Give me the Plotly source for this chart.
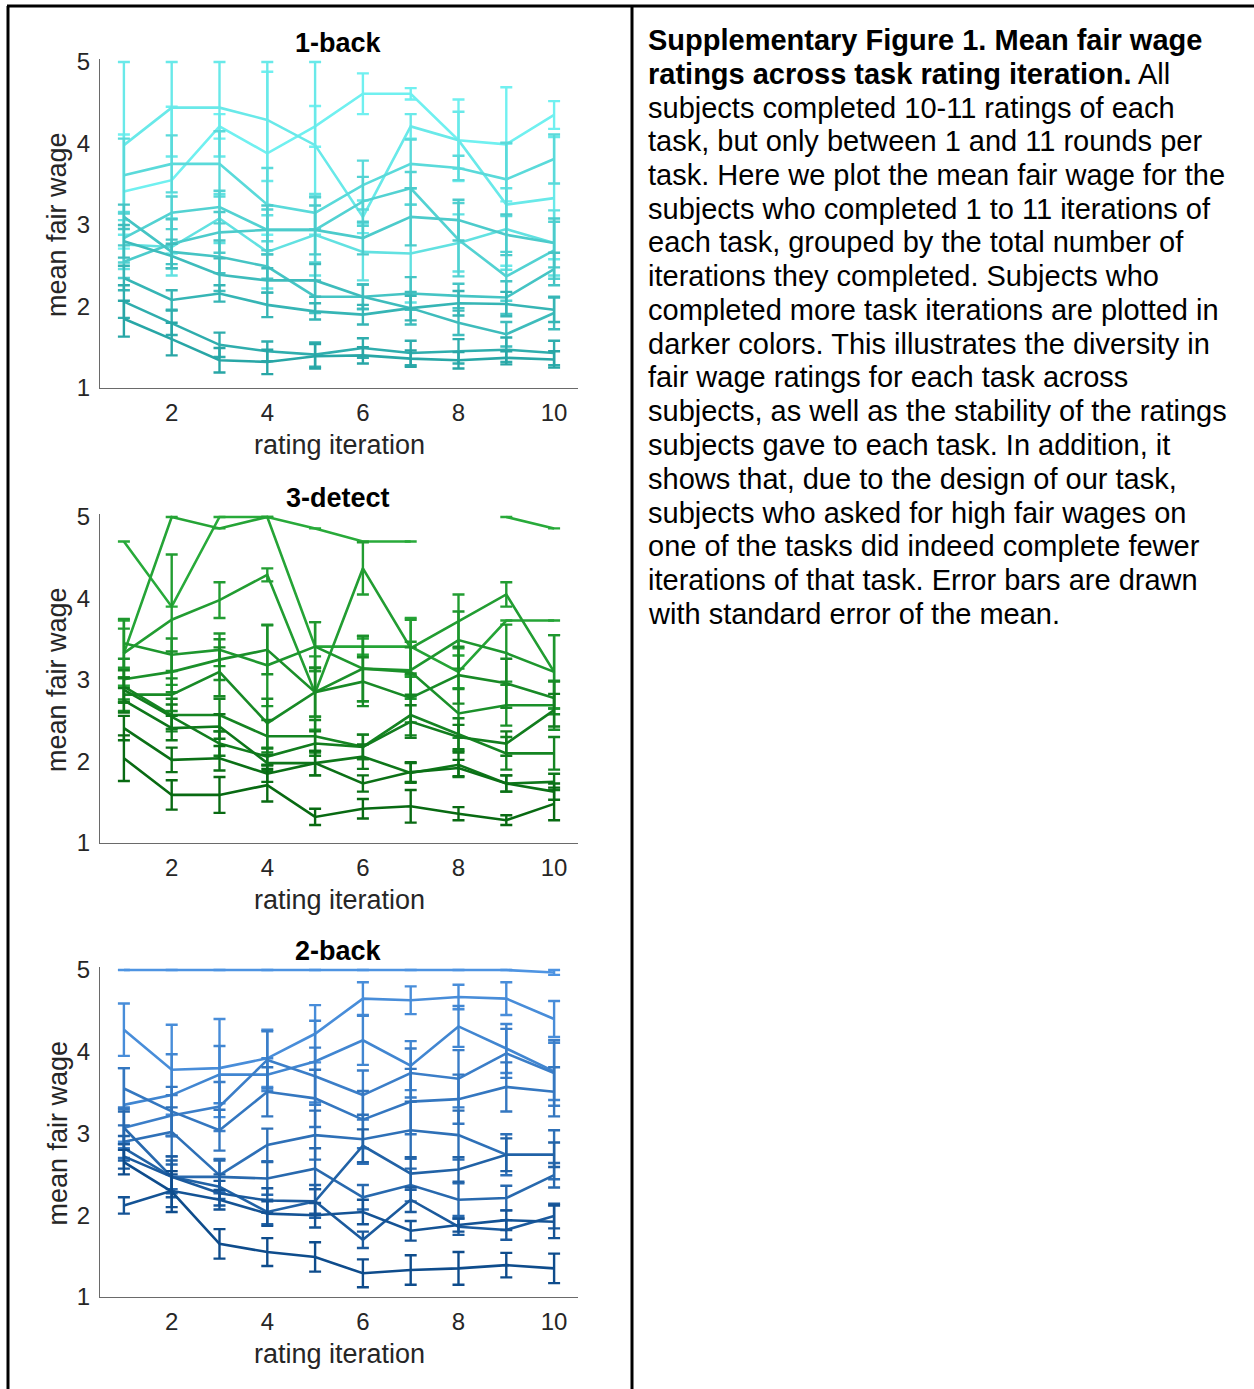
import plotly.graph_objects as go
import numpy as np

W, H = 1254, 1389
iters = list(range(1, 11))
nan = float("nan")

# ---------------- data: 1-back (light -> dark) ----------------
oneback_vals = [
    [3.41, 3.55, 4.21, 3.88, 4.21, 4.61, 4.61, 4.04, 3.99, 4.35],
    [3.98, 4.44, 4.44, 4.29, 3.98, 3.10, 4.21, 4.04, 3.25, 3.33],
    [2.76, 2.73, 3.08, 2.67, 2.88, 2.67, 2.65, 2.78, 2.95, 2.78],
    [3.61, 3.75, 3.75, 3.25, 3.15, 3.49, 3.75, 3.70, 3.56, 3.81],
    [2.84, 3.15, 3.22, 2.94, 2.94, 3.29, 3.45, 2.82, 2.37, 2.69],
    [2.55, 2.77, 2.91, 2.94, 2.94, 2.84, 3.10, 3.06, 2.88, 2.78],
    [3.10, 2.67, 2.61, 2.49, 2.12, 2.12, 2.16, 2.13, 2.11, 2.46],
    [2.80, 2.62, 2.39, 2.32, 2.32, 2.12, 1.98, 1.80, 1.66, 1.92],
    [2.35, 2.08, 2.16, 2.02, 1.94, 1.90, 1.98, 2.04, 2.03, 1.96],
    [2.06, 1.80, 1.53, 1.45, 1.41, 1.49, 1.43, 1.45, 1.47, 1.43],
    [1.85, 1.60, 1.34, 1.32, 1.39, 1.40, 1.36, 1.34, 1.37, 1.35],
]
oneback_err = [
    [0.70, 0.90, 0.15, 1.00, 0.25, 0.25, 0.07, 0.50, 0.70, 0.17],
    [1.10, 0.60, 0.60, 0.75, 1.10, 0.20, 0.15, 0.35, 0.75, 0.75],
    [0.30, 0.35, 0.30, 0.45, 0.50, 0.35, 0.60, 0.35, 0.50, 0.40],
    [0.45, 0.35, 0.40, 0.45, 0.20, 0.30, 0.30, 0.15, 0.45, 0.30],
    [0.30, 0.20, 0.20, 0.25, 0.40, 0.30, 0.20, 0.45, 0.30, 0.35],
    [0.20, 0.30, 0.25, 0.30, 0.30, 0.20, 0.35, 0.25, 0.25, 0.30],
    [0.15, 0.15, 0.20, 0.15, 0.20, 0.15, 0.20, 0.15, 0.20, 0.20],
    [0.20, 0.15, 0.20, 0.15, 0.20, 0.15, 0.20, 0.15, 0.15, 0.20],
    [0.15, 0.12, 0.10, 0.15, 0.10, 0.12, 0.15, 0.15, 0.15, 0.15],
    [0.20, 0.15, 0.15, 0.12, 0.15, 0.12, 0.15, 0.15, 0.15, 0.15],
    [0.22, 0.20, 0.15, 0.15, 0.15, 0.10, 0.10, 0.10, 0.08, 0.10],
]

# ---------------- data: 3-detect (light -> dark) ----------------
detect_vals = [
    [4.70, 3.90, 5.00, 5.00, 4.86, 4.70, 4.70, nan, 5.00, 4.86],
    [3.33, 5.00, 4.86, 5.00, 3.41, 3.41, 3.41, 3.10, 3.73, 3.73],
    [3.33, 3.74, 3.98, 4.29, 2.84, 4.37, 3.39, 3.72, 4.05, 3.10],
    [3.45, 3.31, 3.37, 3.18, 3.41, 3.14, 3.12, 3.49, 3.33, 3.10],
    [3.01, 3.10, 3.25, 3.37, 2.85, 3.14, 3.10, 2.59, 2.69, 2.69],
    [2.82, 2.82, 3.10, 2.47, 2.85, 2.98, 2.78, 3.06, 2.96, 2.78],
    [2.92, 2.57, 2.57, 2.31, 2.31, 2.18, 2.57, 2.33, 2.10, 2.10],
    [2.88, 2.55, 2.22, 2.06, 2.22, 2.18, 2.49, 2.30, 2.22, 2.63],
    [2.75, 2.41, 2.43, 1.98, 1.98, 2.06, 1.86, 1.96, 1.73, 1.75],
    [2.41, 2.02, 2.04, 1.85, 1.98, 1.73, 1.87, 1.92, 1.73, 1.63],
    [2.04, 1.59, 1.59, 1.71, 1.32, 1.42, 1.45, 1.36, 1.28, 1.48],
]
detect_err = [
    [0.00, 0.00, 0.00, 0.00, 0.00, 0.00, 0.00, nan, 0.00, 0.00],
    [0.40, 0.00, 0.00, 0.00, 0.30, 0.10, 0.35, 0.20, 0.00, 0.00],
    [0.30, 0.80, 0.22, 0.08, 0.45, 0.32, 0.35, 0.33, 0.15, 0.45],
    [0.30, 0.20, 0.20, 0.50, 0.30, 0.40, 0.35, 0.35, 0.35, 0.45],
    [0.25, 0.25, 0.25, 0.30, 0.30, 0.40, 0.30, 0.30, 0.25, 0.30],
    [0.20, 0.20, 0.30, 0.30, 0.30, 0.30, 0.30, 0.35, 0.30, 0.20],
    [0.20, 0.20, 0.20, 0.20, 0.20, 0.15, 0.25, 0.20, 0.20, 0.20],
    [0.15, 0.15, 0.15, 0.10, 0.15, 0.15, 0.20, 0.15, 0.15, 0.20],
    [0.15, 0.15, 0.15, 0.10, 0.15, 0.15, 0.12, 0.15, 0.10, 0.10],
    [0.15, 0.15, 0.15, 0.10, 0.15, 0.10, 0.12, 0.10, 0.10, 0.10],
    [0.28, 0.18, 0.22, 0.20, 0.10, 0.12, 0.20, 0.08, 0.06, 0.20],
]

# ---------------- data: 2-back (light -> dark) ----------------
twoback_vals = [
    [5.00, 5.00, 5.00, 5.00, 5.00, 5.00, 5.00, 5.00, 5.00, 4.97],
    [4.27, 3.78, 3.80, 3.92, 4.22, 4.65, 4.63, 4.67, 4.65, 4.40],
    [3.35, 3.47, 3.72, 3.72, 3.88, 4.14, 3.83, 4.31, 4.04, 3.76],
    [3.07, 3.22, 3.33, 3.90, 3.70, 3.47, 3.74, 3.67, 3.98, 3.74],
    [3.55, 3.27, 3.04, 3.51, 3.43, 3.17, 3.39, 3.42, 3.57, 3.51],
    [2.90, 3.02, 2.49, 2.86, 2.98, 2.93, 3.04, 2.98, 2.74, 2.74],
    [3.07, 2.47, 2.47, 2.45, 2.57, 2.22, 2.37, 2.19, 2.21, 2.49],
    [2.82, 2.47, 2.35, 2.04, 2.17, 2.85, 2.51, 2.56, 2.74, 2.74],
    [2.72, 2.47, 2.27, 2.18, 2.17, 1.70, 2.19, 1.86, 1.82, 1.99],
    [2.12, 2.30, 2.19, 2.02, 2.00, 2.04, 1.81, 1.88, 1.94, 1.92],
    [2.65, 2.29, 1.65, 1.55, 1.49, 1.29, 1.33, 1.35, 1.39, 1.35],
]
twoback_err = [
    [0.00, 0.00, 0.00, 0.00, 0.00, 0.00, 0.00, 0.00, 0.00, 0.03],
    [0.32, 0.55, 0.60, 0.35, 0.35, 0.20, 0.17, 0.15, 0.20, 0.22],
    [0.45, 0.50, 0.35, 0.20, 0.50, 0.30, 0.30, 0.25, 0.30, 0.35],
    [0.25, 0.25, 0.30, 0.35, 0.35, 0.30, 0.30, 0.35, 0.30, 0.40],
    [0.25, 0.30, 0.25, 0.30, 0.35, 0.35, 0.40, 0.30, 0.30, 0.30],
    [0.20, 0.30, 0.20, 0.20, 0.30, 0.30, 0.35, 0.30, 0.25, 0.30],
    [0.20, 0.15, 0.20, 0.20, 0.25, 0.15, 0.20, 0.20, 0.15, 0.15],
    [0.15, 0.20, 0.15, 0.15, 0.20, 0.20, 0.20, 0.15, 0.20, 0.15],
    [0.15, 0.25, 0.15, 0.15, 0.15, 0.10, 0.15, 0.10, 0.12, 0.15],
    [0.10, 0.20, 0.12, 0.15, 0.15, 0.15, 0.12, 0.08, 0.12, 0.20],
    [0.15, 0.25, 0.18, 0.17, 0.18, 0.17, 0.18, 0.20, 0.15, 0.18],
]

panel_titles = ["1-back", "3-detect", "2-back"]
x_ticks = [2, 4, 6, 8, 10]
y_ticks = [1, 2, 3, 4, 5]
x_label = "rating iteration"
y_label = "mean fair wage"

caption_lines = [
    "<b>Supplementary Figure 1. Mean fair wage</b>",
    "<b>ratings across task rating iteration.</b> All",
    "subjects completed 10-11 ratings of each",
    "task, but only between 1 and 11 rounds per",
    "task. Here we plot the mean fair wage for the",
    "subjects who completed 1 to 11 iterations of",
    "each task, grouped by the total number of",
    "iterations they completed. Subjects who",
    "completed more task iterations are plotted in",
    "darker colors. This illustrates the diversity in",
    "fair wage ratings for each task across",
    "subjects, as well as the stability of the ratings",
    "subjects gave to each task. In addition, it",
    "shows that, due to the design of our task,",
    "subjects who asked for high fair wages on",
    "one of the tasks did indeed complete fewer",
    "iterations of that task. Error bars are drawn",
    "with standard error of the mean.",
]

# ---------------- styling ----------------
palettes = [
    ((112, 240, 240), (40, 166, 166)),
    ((40, 170, 58), (8, 106, 18)),
    ((78, 148, 226), (14, 76, 140)),
]
FONT = "Liberation Sans, Arial, Helvetica, sans-serif"
AX_COLOR = "#6a6a6a"
TXT = "#262626"

# pixel geometry of each axes box: (y=5 pixel, y=1 pixel)
x_px = (100, 578)
y_px = [(62, 388), (517, 843), (970, 1297)]
YMAX = 5.04


def px_x(p):
    return p / W


def px_y(p):
    return 1 - p / H


def mix(c0, c1, t):
    return "rgb(%d,%d,%d)" % tuple(round(a + (b - a) * t) for a, b in zip(c0, c1))


fig = go.Figure()
datasets = [(oneback_vals, oneback_err), (detect_vals, detect_err), (twoback_vals, twoback_err)]

for p, (vals, errs) in enumerate(datasets):
    c0, c1 = palettes[p]
    n = len(vals)
    xa = "x" if p == 0 else "x%d" % (p + 1)
    ya = "y" if p == 0 else "y%d" % (p + 1)
    for i, (v, e) in enumerate(zip(vals, errs)):
        col = mix(c0, c1, i / (n - 1))
        v = np.array(v, dtype=float)
        e = np.array(e, dtype=float)
        plus = np.minimum(e, 5 - v)
        fig.add_trace(go.Scatter(
            x=iters, y=v, mode="lines", xaxis=xa, yaxis=ya,
            line=dict(color=col, width=2.6),
            error_y=dict(type="data", symmetric=False, array=plus, arrayminus=e,
                         color=col, thickness=2.4, width=6),
            showlegend=False, hoverinfo="skip",
        ))

    top, bot = y_px[p]
    unit = (bot - top) / 4.0
    top_dom = top - (YMAX - 5) * unit
    axis_common = dict(showgrid=False, zeroline=False, showline=True, automargin=False,
                       linecolor=AX_COLOR, linewidth=1, ticks="",
                       tickfont=dict(family=FONT, size=24, color=TXT))
    fig.layout["xaxis" if p == 0 else "xaxis%d" % (p + 1)] = dict(
        domain=[px_x(x_px[0]), px_x(x_px[1])], range=[0.5, 10.5],
        tickvals=x_ticks, anchor=ya, ticklabelstandoff=3, **axis_common)
    fig.layout["yaxis" if p == 0 else "yaxis%d" % (p + 1)] = dict(
        domain=[px_y(bot), px_y(top_dom)], range=[1, YMAX],
        tickvals=y_ticks, anchor=xa, ticklabelstandoff=4, **axis_common)

    cx = (x_px[0] + x_px[1]) / 2
    fig.add_annotation(x=px_x(cx - 1), y=px_y(top - 19), xref="paper", yref="paper",
                       text="<b>%s</b>" % panel_titles[p], showarrow=False,
                       font=dict(family=FONT, size=27, color="black"),
                       xanchor="center", yanchor="middle")
    fig.add_annotation(x=px_x(cx), y=px_y(bot + 57), xref="paper", yref="paper",
                       text=x_label, showarrow=False,
                       font=dict(family=FONT, size=27, color=TXT),
                       xanchor="center", yanchor="middle")
    fig.add_annotation(x=px_x(57), y=px_y((top + bot) / 2), xref="paper", yref="paper",
                       text=y_label, showarrow=False, textangle=-90,
                       font=dict(family=FONT, size=27, color=TXT),
                       xanchor="center", yanchor="middle")

# caption
for k, line in enumerate(caption_lines):
    fig.add_annotation(x=px_x(646), y=px_y(40 + k * 33.75), xref="paper", yref="paper",
                       text=line, showarrow=False, align="left",
                       font=dict(family=FONT, size=29, color="black"),
                       xanchor="left", yanchor="middle")

# table borders
for (x0, y0, x1, y1) in [(7, 6, W, 6), (8, 6, 8, H), (632, 6, 632, H)]:
    fig.add_shape(type="line", xref="paper", yref="paper",
                  x0=px_x(x0), y0=px_y(y0), x1=px_x(x1), y1=px_y(y1),
                  line=dict(color="black", width=3))

fig.update_layout(template="none", width=W, height=H,
                  margin=dict(l=0, r=0, t=0, b=0, pad=0, autoexpand=False),
                  paper_bgcolor="white", plot_bgcolor="white",
                  font=dict(family=FONT))

fig.write_html("out.html")
